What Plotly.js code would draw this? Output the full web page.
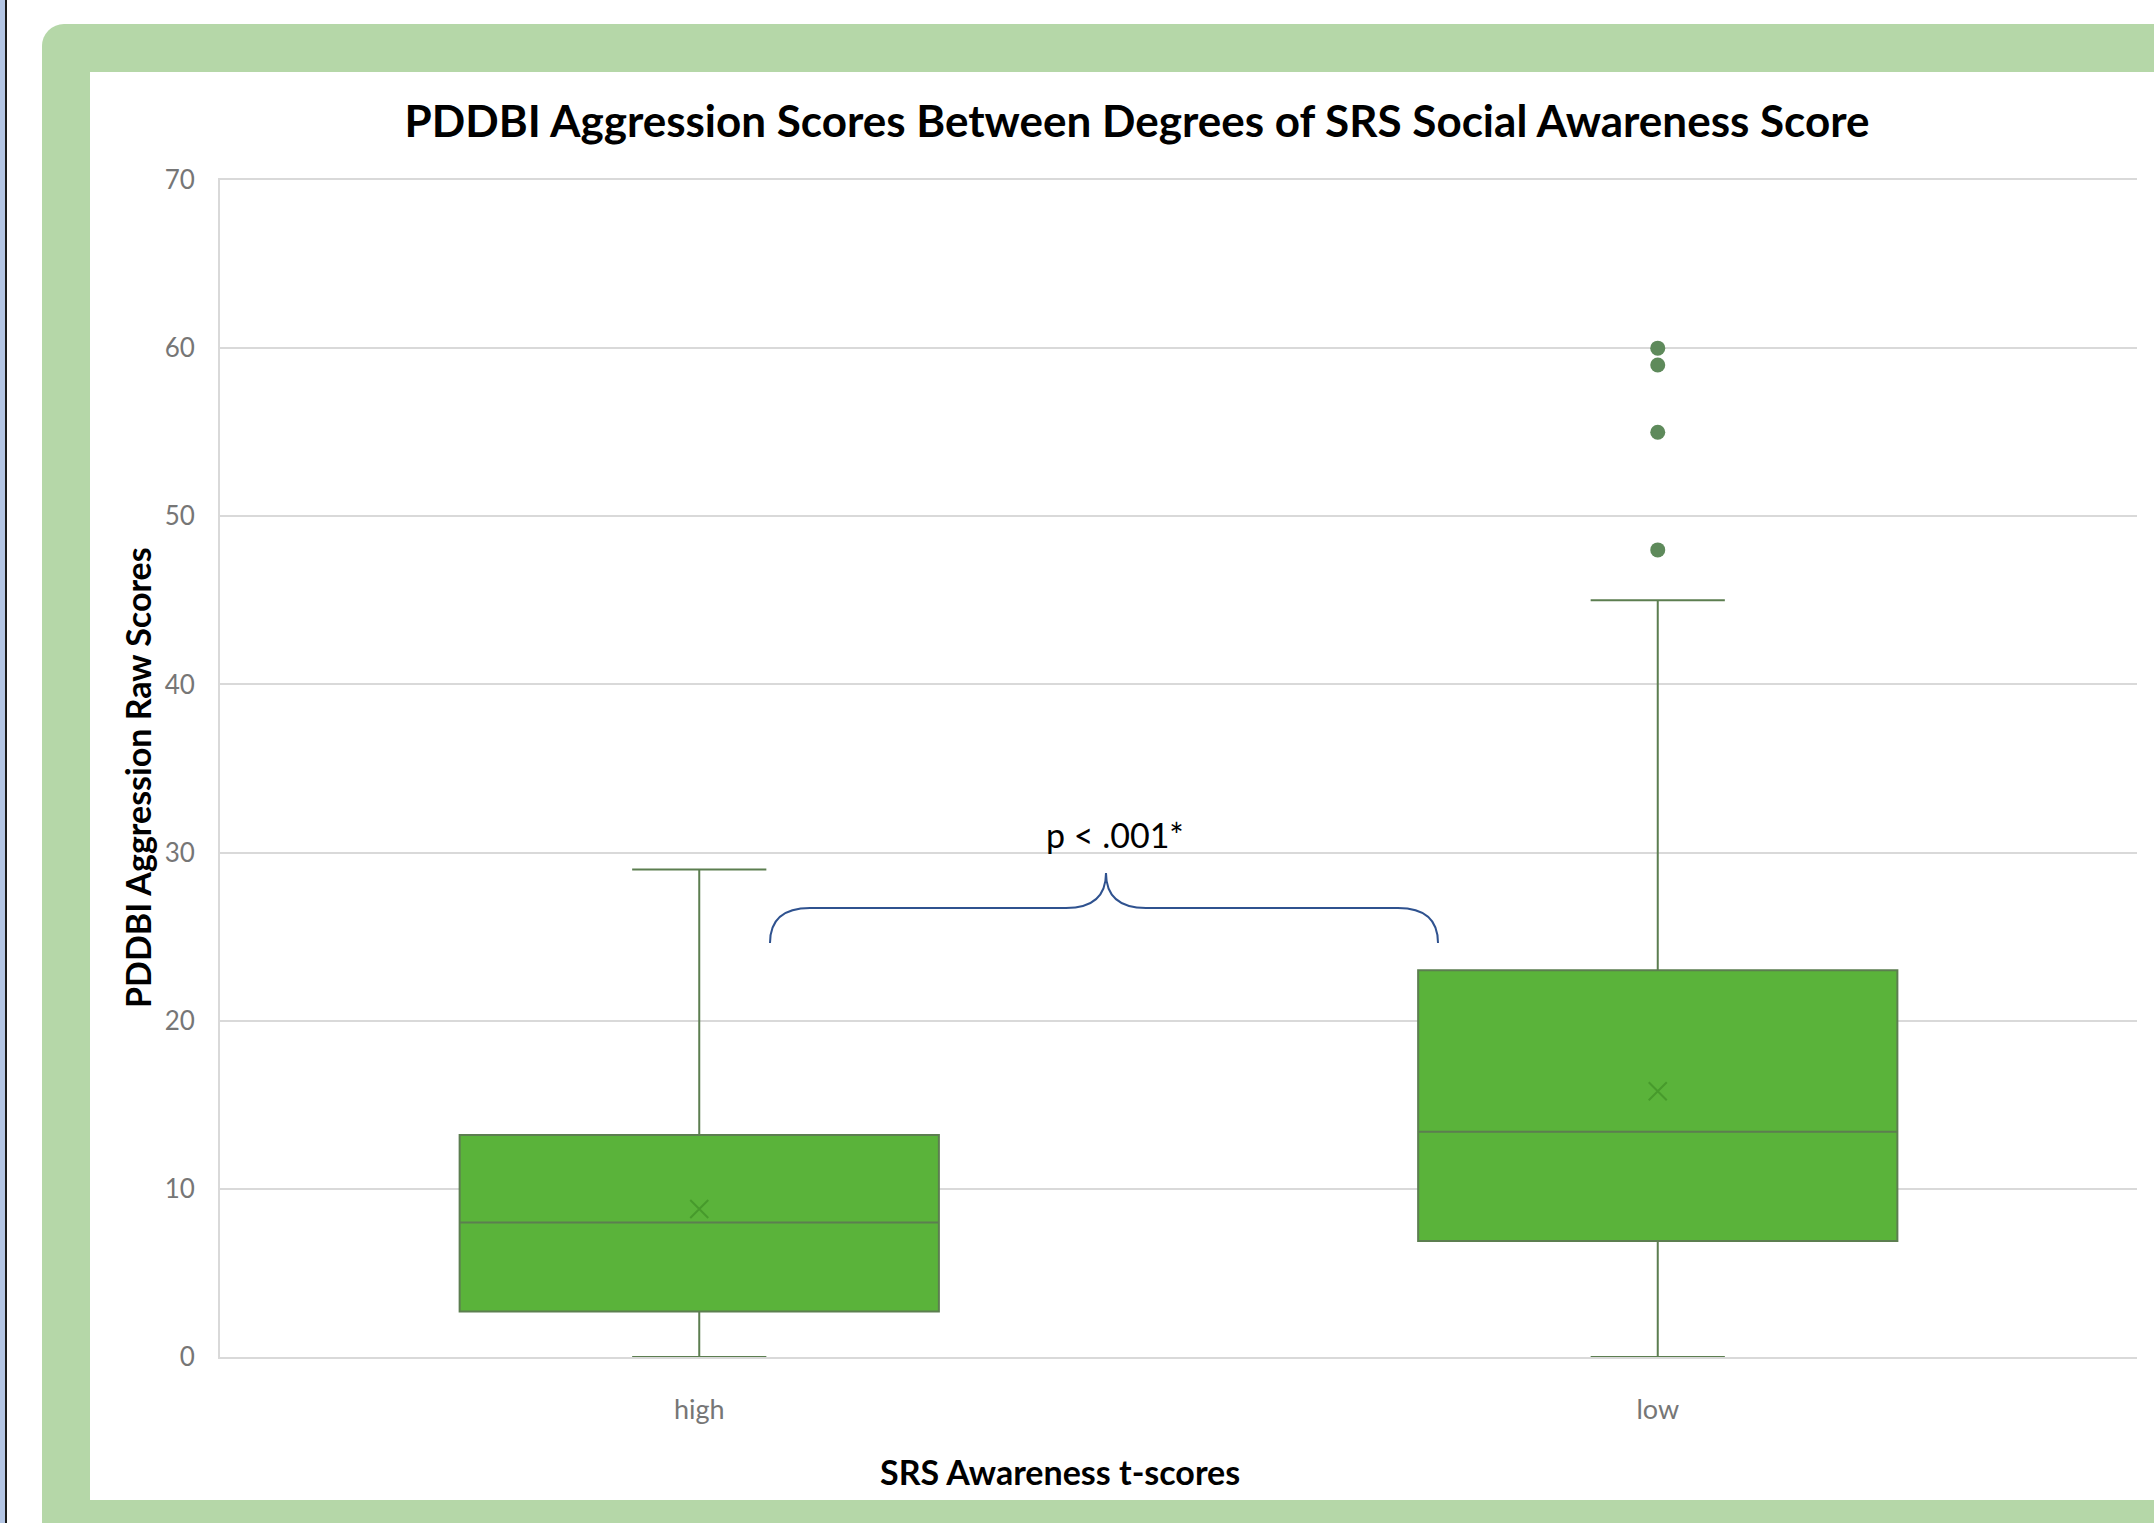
<!DOCTYPE html>
<html>
<head>
<meta charset="utf-8">
<script src="https://cdn.plot.ly/plotly-3.0.1.min.js"></script>
<style>
  html, body { margin: 0; padding: 0; background: #ffffff; }
  #wrap { position: relative; width: 2154px; height: 1523px; overflow: hidden; }
  .bg { position: absolute; }
  #strip { left: 0; top: 0; width: 5px; height: 1523px; background: #b4c6e4; }
  #stripLine { left: 5px; top: 0; width: 2px; height: 1523px; background: #1b1b1b; }
  #frame { left: 42px; top: 24px; width: 2112px; height: 1499px; background: #b5d7a8; border-top-left-radius: 22px; }
  #inner { left: 90px; top: 72px; width: 2064px; height: 1428px; background: #ffffff; }
  #chart { position: absolute; left: 0; top: 0; width: 2154px; height: 1523px; }
</style>
</head>
<body>
<div id="wrap">
  <div class="bg" id="strip"></div>
  <div class="bg" id="stripLine"></div>
  <div class="bg" id="frame"></div>
  <div class="bg" id="inner"></div>
  <div id="chart"></div>
</div>
<script>
// ---- data ----
const categories = ['high', 'low'];
const q1Values = [2.7, 6.9];
const medianValues = [8.0, 13.4];
const q3Values = [13.2, 23.0];
const lowerWhiskers = [0, 0];
const upperWhiskers = [29, 45];
const meanValues = [8.8, 15.8];
const outlierCategories = ['low', 'low', 'low', 'low'];
const outlierValues = [48, 55, 59, 60];

const titleText = 'PDDBI Aggression Scores Between Degrees of SRS Social Awareness Score';
const yTitleText = 'PDDBI Aggression Raw Scores';
const xTitleText = 'SRS Awareness t-scores';
const pText = 'p < .001*';

// ---- layout geometry ----
const W = 2154, H = 1523;
const M = { l: 220, r: 17, t: 180, b: 166 };
const PW = W - M.l - M.r, PH = H - M.t - M.b;
const px2x = px => (px - M.l) / PW;
const px2y = py => (H - M.b - py) / PH;

const FONT = 'Lato, "Open Sans", "Liberation Sans", sans-serif';

const traces = [
  {
    type: 'box',
    x: categories,
    q1: q1Values,
    median: medianValues,
    q3: q3Values,
    lowerfence: lowerWhiskers,
    upperfence: upperWhiskers,
    boxpoints: false,
    width: 0.5,
    fillcolor: '#5ab33a',
    line: { color: '#5c7e50', width: 2 },
    whiskerwidth: 0.28,
    showlegend: false,
    hoverinfo: 'skip'
  },
  {
    type: 'scatter',
    mode: 'markers',
    x: categories,
    y: meanValues,
    marker: { symbol: 'x-thin-open', size: 18, color: '#479a2c', line: { color: '#479a2c', width: 2 } },
    showlegend: false,
    hoverinfo: 'skip'
  },
  {
    type: 'scatter',
    mode: 'markers',
    x: outlierCategories,
    y: outlierValues,
    marker: { symbol: 'circle', size: 15, color: '#5e8a5b' },
    showlegend: false,
    hoverinfo: 'skip'
  }
];

// curly brace (decoration) in pixel -> paper coords
const bx0 = 770, bxt = 1106, bx1 = 1438, byEnd = 943, byH = 908, byTip = 873, bc = 40;
const P = (x, y) => px2x(x).toFixed(5) + ',' + px2y(y).toFixed(5);
const bracePath =
  'M' + P(bx0, byEnd) +
  ' Q' + P(bx0, byH) + ' ' + P(bx0 + bc, byH) +
  ' L' + P(bxt - bc, byH) +
  ' Q' + P(bxt, byH) + ' ' + P(bxt, byTip) +
  ' Q' + P(bxt, byH) + ' ' + P(bxt + bc, byH) +
  ' L' + P(bx1 - bc, byH) +
  ' Q' + P(bx1, byH) + ' ' + P(bx1, byEnd);

const layout = {
  width: W,
  height: H,
  margin: { l: M.l, r: M.r, t: M.t, b: M.b, pad: 0 },
  paper_bgcolor: 'rgba(0,0,0,0)',
  plot_bgcolor: 'rgba(0,0,0,0)',
  showlegend: false,
  title: {
    text: '<b>' + titleText + '</b>',
    font: { family: FONT, size: 44, color: '#000000' },
    xref: 'paper', x: px2x(1137), xanchor: 'center',
    yref: 'container', y: 1 - 122 / H, yanchor: 'middle'
  },
  xaxis: {
    type: 'category',
    range: [-0.5, 1.5],
    showgrid: false,
    zeroline: false,
    showline: true,
    mirror: true,
    linecolor: '#d9d9d9',
    linewidth: 2,
    ticks: '',
    ticklabelstandoff: 28,
    tickfont: { family: FONT, size: 27, color: '#767676' }
  },
  yaxis: {
    range: [0, 70],
    dtick: 10,
    tick0: 0,
    showgrid: true,
    gridcolor: '#d9d9d9',
    gridwidth: 2,
    zeroline: false,
    showline: true,
    linecolor: '#d9d9d9',
    linewidth: 2,
    ticks: '',
    ticklabelstandoff: 18,
    tickfont: { family: FONT, size: 26, color: '#767676' }
  },
  shapes: [
    { type: 'path', xref: 'paper', yref: 'paper', path: bracePath, line: { color: '#2f528f', width: 2 } }
  ],
  annotations: [
    {
      text: pText, xref: 'paper', yref: 'paper', x: px2x(1115), y: px2y(834),
      xanchor: 'center', yanchor: 'middle', showarrow: false,
      font: { family: FONT, size: 34, color: '#000000' }
    },
    {
      text: '<b>' + xTitleText + '</b>', xref: 'paper', yref: 'paper', x: px2x(1060), y: px2y(1471),
      xanchor: 'center', yanchor: 'middle', showarrow: false,
      font: { family: FONT, size: 34, color: '#000000' }
    },
    {
      text: '<b>' + yTitleText + '</b>', xref: 'paper', yref: 'paper', x: px2x(137), y: px2y(778),
      xanchor: 'center', yanchor: 'middle', showarrow: false, textangle: -90,
      font: { family: FONT, size: 34, color: '#000000' }
    }
  ]
};

Plotly.newPlot('chart', traces, layout, { staticPlot: true, displayModeBar: false });
</script>
</body>
</html>
